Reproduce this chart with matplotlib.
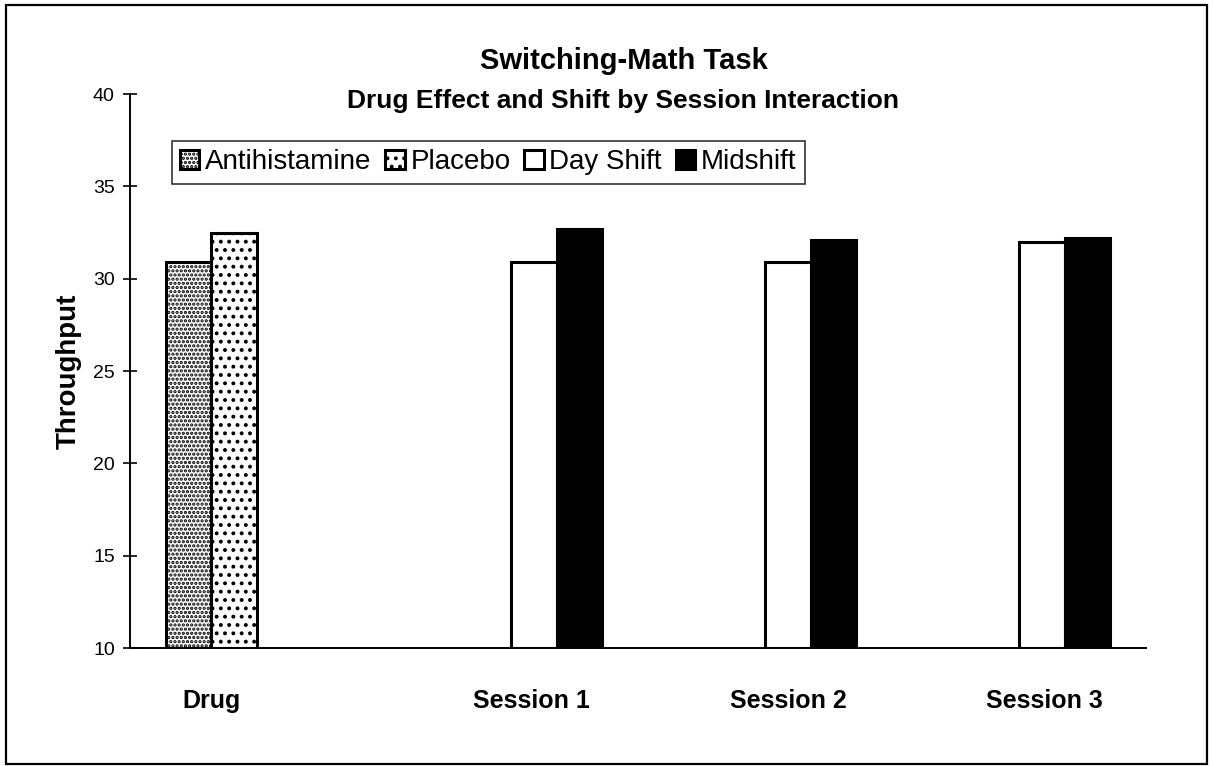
import numpy as np
import matplotlib
matplotlib.use("Agg")
import matplotlib.pyplot as plt
from matplotlib.patches import Rectangle

plt.rcParams['font.family'] = ['Liberation Sans', 'DejaVu Sans']
plt.rcParams['hatch.linewidth'] = 1.6

categories = ["Drug", "Session 1", "Session 2", "Session 3"]
series_names = ["Antihistamine", "Placebo", "Day Shift", "Midshift"]
antihistamine = [30.9, None, None, None]
placebo = [32.5, None, None, None]
day_shift = [None, 30.9, 30.9, 32.0]
midshift = [None, 32.7, 32.1, 32.2]
y_ticks = [10, 15, 20, 25, 30, 35, 40]

series_values = [antihistamine, placebo, day_shift, midshift]
face_colors = ["white", "white", "white", "black"]
hatches = ["....", "..", None, None]

fig = plt.figure(figsize=(12.13, 7.66), dpi=100)
ax = fig.add_axes([0.1072, 0.154, 0.8376, 0.7232])

x = np.arange(len(categories))
width = 0.18
offsets = (np.arange(4) - 1.5) * width

for vals, off, fc, h, name in zip(series_values, offsets, face_colors, hatches, series_names):
    heights = [np.nan if v is None else v - 10 for v in vals]
    ax.bar(x + off, heights, width, bottom=10, color=fc, edgecolor="black",
           linewidth=2.2, hatch=h, label=name)

ax.set_xlim(-0.5, 3.5)
ax.set_ylim(10, 40)
ax.set_yticks(y_ticks)
ax.tick_params(axis="y", direction="inout", length=10, width=1.2, labelsize=14, pad=6)
ax.set_xticks([])
for s in ["top", "right"]:
    ax.spines[s].set_visible(False)
ax.spines["left"].set_linewidth(1.4)
ax.spines["bottom"].set_linewidth(1.4)

# category labels below the axis
label_x = [-0.18, 1.08, 2.09, 3.10]
for lx, lab in zip(label_x, categories):
    ax.text(lx, -0.095, lab, transform=ax.get_xaxis_transform(), ha="center",
            va="center", fontsize=18, fontweight="bold")

ax.set_ylabel("Throughput", fontsize=20, fontweight="bold", labelpad=8)

fig.text(0.514, 0.920, "Switching-Math Task", ha="center", va="center",
         fontsize=21, fontweight="bold")
fig.text(0.514, 0.868, "Drug Effect and Shift by Session Interaction", ha="center",
         va="center", fontsize=19, fontweight="bold")

leg = ax.legend(loc="upper left", bbox_to_anchor=(0.041, 0.915), ncol=4, frameon=True,
                fancybox=False, edgecolor="black", fontsize=20, handlelength=0.7,
                handleheight=0.7, handletextpad=0.2, columnspacing=0.5,
                borderpad=0.3, borderaxespad=0)
leg.get_frame().set_linewidth(1.2)

fig.patches.append(Rectangle((0.005, 0.003), 0.99, 0.99, transform=fig.transFigure,
                             fill=False, edgecolor="black", linewidth=1.6))

fig.savefig("out.png", dpi=100, facecolor="white")
